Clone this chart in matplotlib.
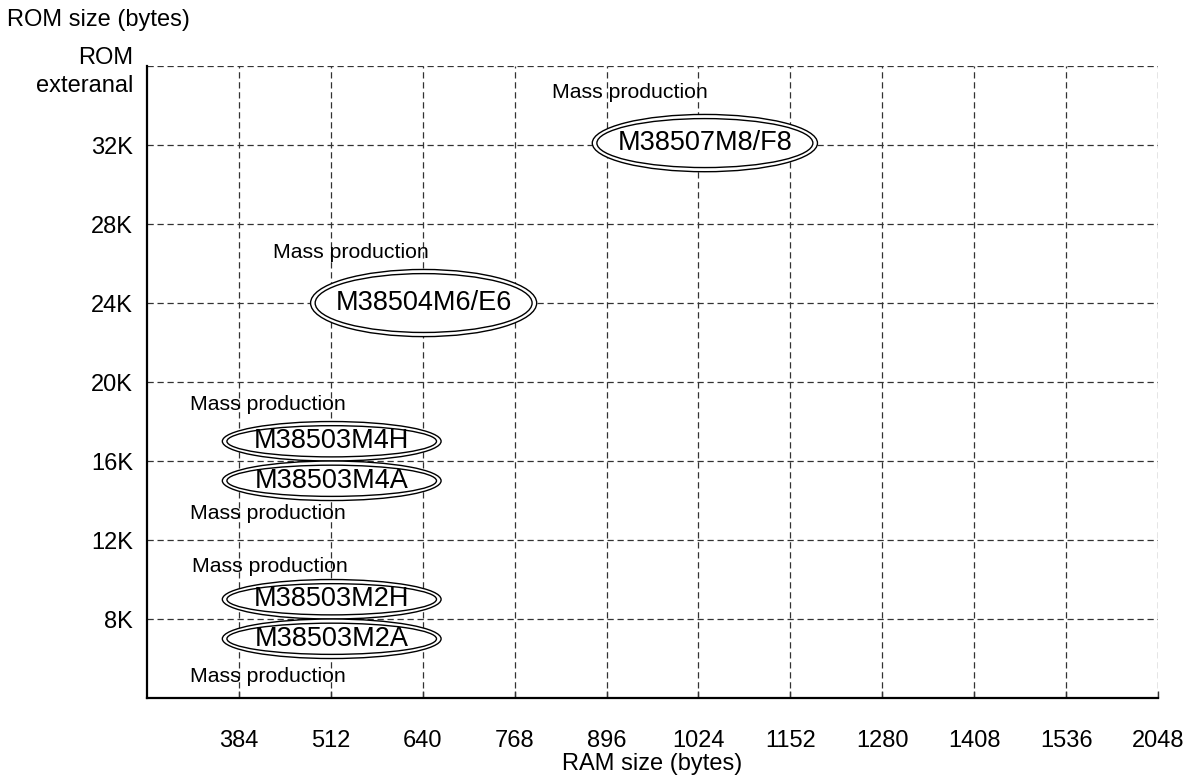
import matplotlib
matplotlib.use("Agg")
import matplotlib.pyplot as plt
from matplotlib.patches import Ellipse

plt.rcParams['font.family'] = ['Liberation Sans', 'DejaVu Sans']

# RAM axis (categorical, evenly spaced)
ram_ticks = [384, 512, 640, 768, 896, 1024, 1152, 1280, 1408, 1536, 2048]
# ROM axis, in K bytes
rom_ticks = [8, 12, 16, 20, 24, 28, 32, 36]
rom_labels = ['8K', '12K', '16K', '20K', '24K', '28K', '32K', 'ROM\nexteranal']

# products
chips = ['M38507M8/F8', 'M38504M6/E6', 'M38503M4H', 'M38503M4A', 'M38503M2H', 'M38503M2A']
chip_ram = [1024, 640, 512, 512, 512, 512]
chip_rom = [32, 24, 16, 16, 8, 8]
status = ['Mass production'] * 6

# ellipse placement tweaks (x in tick units, y in K)
nudge_x = [0.07, 0.01, 0.01, 0.01, 0.01, 0.01]
nudge_y = [0.1, 0.0, 1.0, -1.0, 1.0, -1.0]
ell_w = [2.45, 2.46, 2.38, 2.38, 2.38, 2.38]
ell_h = [2.9, 3.4, 2.0, 2.0, 2.0, 2.0]
# "Mass production" label offsets from ellipse centre
lab_dx = [-0.82, -0.79, -0.70, -0.70, -0.67, -0.69]
lab_dy = [2.55, 2.58, 1.84, -1.68, 1.68, -1.89]

fig = plt.figure(figsize=(11.91, 7.78), dpi=100)
ax = fig.add_axes([0.1234, 0.1028, 0.8489, 0.8123])

xpos = list(range(1, len(ram_ticks) + 1))
ax.set_xlim(0, len(ram_ticks))
ax.set_ylim(4, 36)
ax.set_xticks(xpos)
ax.set_xticklabels([str(v) for v in ram_ticks], fontsize=17)
ax.set_yticks(rom_ticks)
ax.set_yticklabels(rom_labels, fontsize=17, linespacing=1.4)
ax.tick_params(axis='x', direction='in', length=5, width=1, pad=23, color='#333333')
ax.tick_params(axis='y', length=0, pad=10)

ax.grid(True, linestyle=(0, (5, 3)), color='#333333', linewidth=0.9)
ax.set_axisbelow(True)
for s in ['top', 'right']:
    ax.spines[s].set_visible(False)
for s in ['left', 'bottom']:
    ax.spines[s].set_linewidth(1.6)

for i, name in enumerate(chips):
    cx = ram_ticks.index(chip_ram[i]) + 1 + nudge_x[i]
    cy = chip_rom[i] + nudge_y[i]
    outer = Ellipse((cx, cy), ell_w[i], ell_h[i], facecolor='white',
                    edgecolor='black', linewidth=1.0, zorder=3)
    inner = Ellipse((cx, cy), ell_w[i] - 0.1, ell_h[i] - 0.42, facecolor='none',
                    edgecolor='black', linewidth=1.0, zorder=4)
    ax.add_patch(outer)
    ax.add_patch(inner)
    ax.text(cx, cy, name, ha='center', va='center', fontsize=19.5, zorder=5)
    ax.text(cx + lab_dx[i], cy + lab_dy[i], status[i], ha='center', va='center',
            fontsize=15.3, zorder=5)

ax.set_xlabel('RAM size (bytes)', fontsize=17, labelpad=1)
fig.text(0.006, 0.974, 'ROM size (bytes)', fontsize=17, ha='left', va='center')

fig.savefig('out.png', dpi=100)
